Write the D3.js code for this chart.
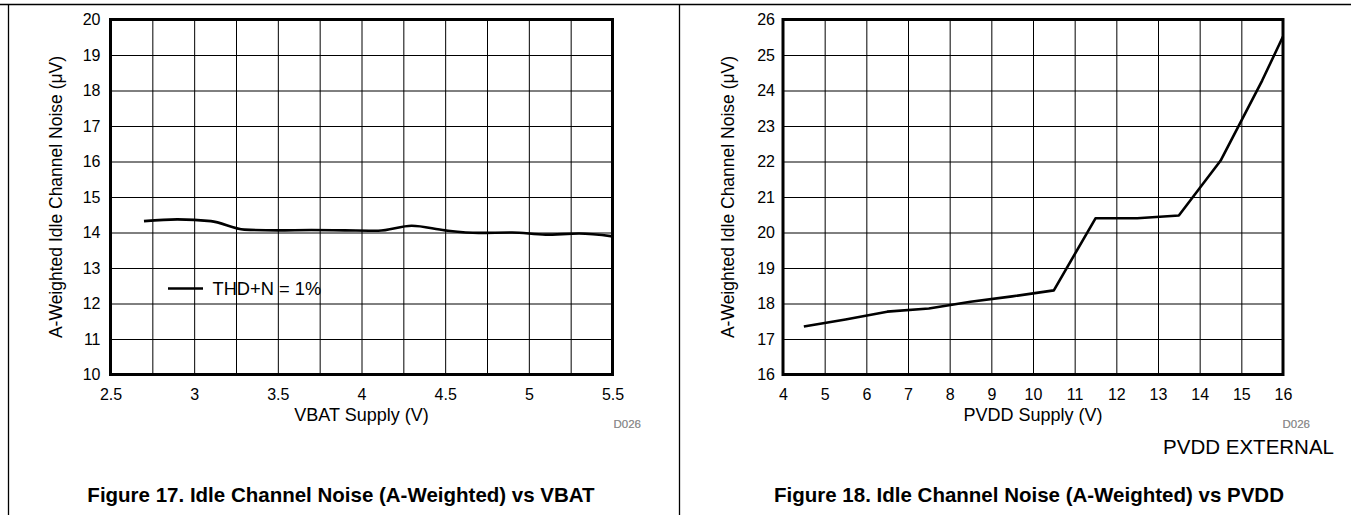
<!DOCTYPE html>
<html>
<head>
<meta charset="utf-8">
<script src="https://cdn.jsdelivr.net/npm/d3@7"></script>
<style>
  html, body { margin: 0; padding: 0; background: #fff; }
  svg { display: block; font-family: "Liberation Sans", Arial, Helvetica, sans-serif; }
</style>
</head>
<body>
<svg id="chart" width="1351" height="515"></svg>
<script>
// ---- data ----
const vbatSupply = [2.7, 2.9, 3.1, 3.3, 3.5, 3.7, 3.9, 4.1, 4.3, 4.5, 4.7, 4.9, 5.1, 5.3, 5.5];
const vbatNoise  = [14.32, 14.37, 14.32, 14.08, 14.06, 14.07, 14.06, 14.05, 14.19, 14.06, 13.99, 14.00, 13.94, 13.97, 13.89];

const pvddSupply = [4.5, 5.5, 6.5, 7.5, 8.5, 9.5, 10.5, 11.5, 12.5, 13.5, 14.5, 15.5, 16];
const pvddNoise  = [17.35, 17.55, 17.77, 17.86, 18.05, 18.20, 18.37, 20.40, 20.40, 20.48, 22.02, 24.28, 25.52];

const vbatXTicks = [2.5, 3, 3.5, 4, 4.5, 5, 5.5];
const vbatXGrid  = [2.75, 3, 3.25, 3.5, 3.75, 4, 4.25, 4.5, 4.75, 5, 5.25];
const vbatYTicks = [10, 11, 12, 13, 14, 15, 16, 17, 18, 19, 20];
const pvddXTicks = [4, 5, 6, 7, 8, 9, 10, 11, 12, 13, 14, 15, 16];
const pvddYTicks = [16, 17, 18, 19, 20, 21, 22, 23, 24, 25, 26];

const yTitle = "A-Weighted Idle Channel Noise (\u03BCV)";
const legendLabel = "THD+N = 1%";

const svg = d3.select("#chart");

// page frame
svg.append("line").attr("x1", 0).attr("x2", 1351).attr("y1", 4.5).attr("y2", 4.5)
   .attr("stroke", "#000").attr("stroke-width", 1.3);
svg.append("line").attr("x1", 8.5).attr("x2", 8.5).attr("y1", 4).attr("y2", 515)
   .attr("stroke", "#000").attr("stroke-width", 1.3);
svg.append("line").attr("x1", 679.5).attr("x2", 679.5).attr("y1", 4).attr("y2", 515)
   .attr("stroke", "#000").attr("stroke-width", 1.3);

const FONT = "'Liberation Sans', Arial, sans-serif";

function panel(opts) {
  const {left, right, top, bottom, xDomain, yDomain, xTicks, xGrid, yTicks, xs, ys,
         xTitle, caption, yTitleX, curve} = opts;
  const x = d3.scaleLinear().domain(xDomain).range([left, right]);
  const y = d3.scaleLinear().domain(yDomain).range([bottom, top]);
  const g = svg.append("g");

  // grid
  const gx = d3.axisBottom(x).tickValues(xGrid).tickSize(-(bottom - top)).tickFormat("");
  g.append("g").attr("transform", `translate(0,${bottom})`).call(gx)
    .call(a => a.select(".domain").remove())
    .call(a => a.selectAll("line").attr("stroke", "#000").attr("stroke-width", 1));
  const gy = d3.axisLeft(y).tickValues(yTicks.slice(1, -1)).tickSize(-(right - left)).tickFormat("");
  g.append("g").attr("transform", `translate(${left},0)`).call(gy)
    .call(a => a.select(".domain").remove())
    .call(a => a.selectAll("line").attr("stroke", "#000").attr("stroke-width", 1));

  // tick labels via axes
  const ax = d3.axisBottom(x).tickValues(xTicks).tickSize(0).tickPadding(14)
    .tickFormat(d3.format(""));
  g.append("g").attr("transform", `translate(0,${bottom})`).call(ax)
    .call(a => a.select(".domain").remove())
    .call(a => a.selectAll("text").attr("font-size", 16).attr("fill", "#000").attr("font-family", FONT));
  const ay = d3.axisLeft(y).tickValues(yTicks).tickSize(0).tickPadding(opts.yPad)
    .tickFormat(d3.format(""));
  g.append("g").attr("transform", `translate(${left},0)`).call(ay)
    .call(a => a.select(".domain").remove())
    .call(a => a.selectAll("text").attr("font-size", 16).attr("fill", "#000").attr("font-family", FONT));

  // data line
  const line = d3.line().x((d, i) => x(xs[i])).y(d => y(d)).curve(curve);
  g.append("path").datum(ys).attr("d", line).attr("fill", "none")
    .attr("stroke", "#000").attr("stroke-width", 2.6).attr("stroke-linejoin", "round");

  // plot border
  g.append("rect").attr("x", left).attr("y", top).attr("width", right - left).attr("height", bottom - top)
    .attr("fill", "none").attr("stroke", "#000").attr("stroke-width", 3);

  // titles
  g.append("text").attr("x", (left + right) / 2).attr("y", 421).attr("text-anchor", "middle")
    .attr("font-size", 18).text(xTitle);
  g.append("text").attr("transform", `translate(${yTitleX},${(top + bottom) / 2}) rotate(-90)`)
    .attr("text-anchor", "middle").attr("font-size", 17.5).text(yTitle);
  g.append("text").attr("x", opts.capX).attr("y", 502).attr("text-anchor", "middle")
    .attr("font-size", 20.5).attr("font-weight", "bold").text(caption);

  return {x, y, g};
}

const p1 = panel({
  left: 110.5, right: 612.5, top: 19.5, bottom: 374.5,
  xDomain: [2.5, 5.5], yDomain: [10, 20],
  xTicks: vbatXTicks, xGrid: vbatXGrid, yTicks: vbatYTicks,
  xs: vbatSupply, ys: vbatNoise, curve: d3.curveMonotoneX,
  xTitle: "VBAT Supply (V)", caption: "Figure 17. Idle Channel Noise (A-Weighted) vs VBAT",
  yTitleX: 62, yPad: 10, capX: 341
});
const p2 = panel({
  left: 783, right: 1283, top: 19.5, bottom: 374.5,
  xDomain: [4, 16], yDomain: [16, 26],
  xTicks: pvddXTicks, xGrid: pvddXTicks.slice(1, -1), yTicks: pvddYTicks,
  xs: pvddSupply, ys: pvddNoise, curve: d3.curveLinear,
  xTitle: "PVDD Supply (V)", caption: "Figure 18. Idle Channel Noise (A-Weighted) vs PVDD",
  yTitleX: 734, yPad: 8, capX: 1029
});

// legend (panel 1)
const lg = p1.g.append("g");
lg.append("line").attr("x1", 168).attr("x2", 203).attr("y1", 288.5).attr("y2", 288.5)
  .attr("stroke", "#000").attr("stroke-width", 2.6);
lg.append("text").attr("x", 212.5).attr("y", 295).attr("font-size", 18.3).text(legendLabel);

// figure ids
function figId(xr, yb) {
  svg.append("text").attr("x", xr).attr("y", yb).attr("text-anchor", "end")
    .attr("font-size", 11.5).attr("fill", "#8a8a8a").text("D026");
  svg.append("text").attr("x", xr).attr("y", yb).attr("text-anchor", "end")
    .attr("font-size", 11.5).attr("fill", "#8a8a8a").attr("opacity", 0.6).text("D028");
}
figId(641, 428);
figId(1310, 428);

svg.append("text").attr("x", 1334).attr("y", 454).attr("text-anchor", "end")
  .attr("font-size", 20.5).text("PVDD EXTERNAL");
</script>
</body>
</html>
